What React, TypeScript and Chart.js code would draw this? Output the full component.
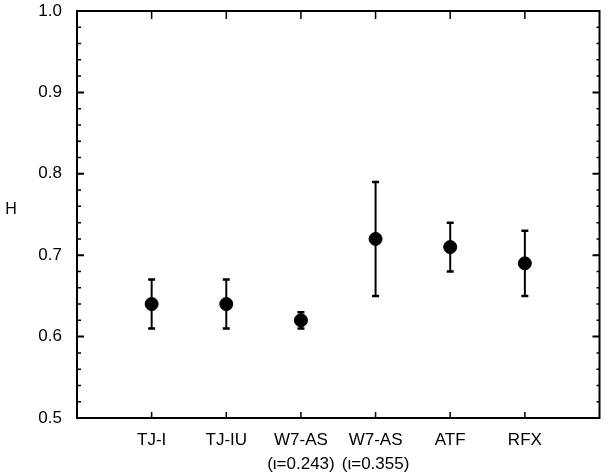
import React, { useEffect, useRef } from "react";
import { Chart, registerables } from "chart.js";

Chart.register(...registerables);

const categories: (string | string[])[] = [
  "TJ-I",
  "TJ-IU",
  ["W7-AS", "(\u03b9=0.243)"],
  ["W7-AS", "(\u03b9=0.355)"],
  "ATF",
  "RFX",
];
const hValues = [0.64, 0.64, 0.62, 0.72, 0.71, 0.69];
const hLow = [0.61, 0.61, 0.61, 0.65, 0.68, 0.65];
const hHigh = [0.67, 0.67, 0.63, 0.79, 0.74, 0.73];
const yTicks = [0.5, 0.6, 0.7, 0.8, 0.9, 1.0];
const yMinorTicks = [
  0.52, 0.54, 0.56, 0.58, 0.62, 0.64, 0.66, 0.68, 0.72, 0.74, 0.76, 0.78,
  0.82, 0.84, 0.86, 0.88, 0.92, 0.94, 0.96, 0.98,
];
const xPositions = categories.map((_, i) => i + 1);

const FONT = "'Liberation Sans', Arial, Helvetica, sans-serif";

const framePlugin = {
  id: "framePlugin",
  beforeDatasetsDraw(chart: any) {
    const { ctx, scales } = chart;
    const xs = scales.x;
    const ys = scales.y;
    ctx.save();
    ctx.strokeStyle = "#000";
    ctx.fillStyle = "#000";
    xPositions.forEach((xv, i) => {
      const px = xs.getPixelForValue(xv);
      const pLo = ys.getPixelForValue(hLow[i]);
      const pHi = ys.getPixelForValue(hHigh[i]);
      ctx.lineWidth = 2;
      ctx.beginPath();
      ctx.moveTo(px, pLo);
      ctx.lineTo(px, pHi);
      ctx.stroke();
      ctx.lineWidth = 2.5;
      ctx.beginPath();
      ctx.moveTo(px - 3.5, pLo);
      ctx.lineTo(px + 3.5, pLo);
      ctx.moveTo(px - 3.5, pHi);
      ctx.lineTo(px + 3.5, pHi);
      ctx.stroke();
    });
    ctx.restore();
  },
  afterDraw(chart: any) {
    const { ctx, chartArea, scales } = chart;
    const { left, right, top, bottom } = chartArea;
    const xs = scales.x;
    const ys = scales.y;
    ctx.save();
    ctx.strokeStyle = "#000";
    ctx.lineWidth = 2;
    ctx.strokeRect(left, top, right - left, bottom - top);
    ctx.beginPath();
    yTicks.forEach((v) => {
      const py = ys.getPixelForValue(v);
      ctx.moveTo(left, py);
      ctx.lineTo(left + 7, py);
      ctx.moveTo(right, py);
      ctx.lineTo(right - 7, py);
    });
    ctx.stroke();
    ctx.lineWidth = 1.5;
    ctx.beginPath();
    yMinorTicks.forEach((v) => {
      const py = ys.getPixelForValue(v);
      ctx.moveTo(left, py);
      ctx.lineTo(left + 4, py);
      ctx.moveTo(right, py);
      ctx.lineTo(right - 3, py);
    });
    ctx.stroke();
    ctx.beginPath();
    xPositions.forEach((v) => {
      const px = xs.getPixelForValue(v);
      ctx.moveTo(px, bottom);
      ctx.lineTo(px, bottom - 6);
      ctx.moveTo(px, top);
      ctx.lineTo(px, top + 8);
    });
    ctx.stroke();
    ctx.fillStyle = "#000";
    ctx.font = `16px ${FONT}`;
    ctx.textAlign = "center";
    ctx.textBaseline = "middle";
    ctx.fillText("H", 11, 210);
    ctx.restore();
  },
};

export default function App() {
  const ref = useRef<HTMLCanvasElement | null>(null);
  useEffect(() => {
    if (!ref.current) return;
    const chart = new Chart(ref.current, {
      type: "scatter",
      data: {
        datasets: [
          {
            data: xPositions.map((x, i) => ({ x, y: hValues[i] })),
            backgroundColor: "#000",
            borderColor: "#000",
            pointRadius: 6.5,
            pointHoverRadius: 6.5,
            showLine: false,
          },
        ],
      },
      options: {
        animation: false,
        responsive: false,
        maintainAspectRatio: false,
        events: [],
        layout: { padding: { top: 11, right: 2, left: 0, bottom: 0 } },
        plugins: {
          legend: { display: false },
          tooltip: { enabled: false },
          title: { display: false },
        },
        scales: {
          x: {
            type: "linear",
            min: 0,
            max: 7,
            border: { display: false },
            grid: { display: false, drawTicks: false },
            afterBuildTicks: (scale: any) => {
              scale.ticks = xPositions.map((v) => ({ value: v }));
            },
            afterFit: (scale: any) => {
              scale.height = 54;
              scale.paddingLeft = 0;
              scale.paddingRight = 0;
            },
            ticks: {
              color: "#000",
              padding: 10,
              maxRotation: 0,
              autoSkip: false,
              font: { family: FONT, size: 17, lineHeight: 1.42 },
              callback: (v: any) => categories[Number(v) - 1] ?? "",
            },
          },
          y: {
            type: "linear",
            min: 0.5,
            max: 1.0,
            border: { display: false },
            grid: { display: false, drawTicks: false },
            afterBuildTicks: (scale: any) => {
              scale.ticks = yTicks.map((v) => ({ value: v }));
            },
            afterFit: (scale: any) => {
              scale.width = 77;
              scale.paddingTop = 0;
              scale.paddingBottom = 0;
            },
            ticks: {
              color: "#000",
              padding: 15,
              font: { family: FONT, size: 17 },
              callback: (v: any) => Number(v).toFixed(1),
            },
          },
        },
      },
      plugins: [framePlugin],
    });
    return () => chart.destroy();
  }, []);
  return (
    <div style={{ position: "fixed", left: 0, top: 0, width: 607, height: 472, background: "#fff" }}>
      <canvas ref={ref} width={607} height={472} />
    </div>
  );
}
